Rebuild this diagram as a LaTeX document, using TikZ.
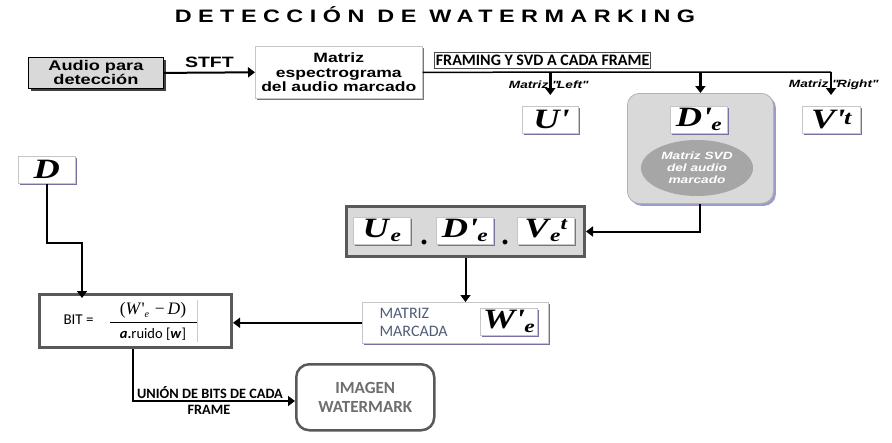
\documentclass[tikz,border=0pt]{standalone}
\usepackage{fontspec}
\setmainfont{Liberation Sans}
\newfontfamily\titfont[FakeStretch=1.3,LetterSpace=36]{Liberation Sans}
\newfontfamily\widefont[FakeStretch=1.3]{Liberation Sans}
\newfontfamily\calfont{Carlito}
\newfontfamily\tmsfont{Liberation Serif}
\newfontfamily\tmswide[FakeStretch=1.3]{Liberation Serif}
\usetikzlibrary{arrows.meta,shadows,shapes.geometric}
\definecolor{shpurple}{HTML}{7B6FA0}
\definecolor{boxgray}{HTML}{D9D9D9}
\definecolor{darkborder}{HTML}{595959}
\definecolor{ellgray}{HTML}{A6A6A6}
\definecolor{slate}{HTML}{4F5D78}
\definecolor{imggray}{HTML}{6E6E6E}
\newcommand\subE[1]{\kern1.5pt\raisebox{-4pt}{\fontsize{18}{18}\selectfont #1}}
\newcommand\supT[1]{\raisebox{8pt}{\fontsize{18}{18}\selectfont #1}}
\tikzset{
  arr/.style={line width=2pt,-{Triangle[length=7pt,width=10pt]}},
  bus/.style={line width=1.5pt},
  pbox/.style={draw=gray!45,fill=white,line width=0.6pt,anchor=north west,inner sep=0pt,
    drop shadow={shadow xshift=2pt,shadow yshift=-2pt,opacity=1,fill=shpurple}},
  symbox/.style={pbox,drop shadow={shadow xshift=1.5pt,shadow yshift=-1.5pt,opacity=1,fill=shpurple},
    font=\fontsize{28}{28}\selectfont\tmswide\bfseries\itshape},
  thickbox/.style={draw=darkborder,line width=3pt,anchor=north west,inner sep=0pt},
  lbl/.style={font=\widefont\bfseries\itshape\fontsize{10.5}{10.5}\selectfont},
}
\begin{document}
\begin{tikzpicture}[x=1pt,y=-1pt]
\useasboundingbox[fill=white] (0,0) rectangle (892,442);

% title
\node (title) at (435,15) {\titfont\bfseries\fontsize{18}{18}\selectfont DETECCIÓN DE WATERMARKING};

% top row
\node[draw=black,line width=0.8pt,fill=boxgray,anchor=north west,inner sep=0pt,
  minimum width=135,minimum height=31,align=center,
  drop shadow={shadow xshift=2.5pt,shadow yshift=-2.5pt,opacity=1,fill=black!75},
  font=\widefont\bfseries\fontsize{14}{14}\selectfont] (audio) at (28,57) {Audio para\\detección};
\node[pbox,minimum width=167,minimum height=52,align=center,
  font=\widefont\bfseries\fontsize{13.5}{14.5}\selectfont] (spec) at (255,46) {Matriz\\espectrograma\\del audio marcado};
\draw[arr] (audio.east) -- (spec.west) node[midway,above=1pt,font=\widefont\bfseries\fontsize{15}{15}\selectfont] (stft) {STFT};

\node[draw=black!70,line width=0.8pt,fill=white,anchor=north west,inner sep=1.5pt,minimum height=16,
  font=\calfont\bfseries\fontsize{16}{16}\selectfont] (framing) at (434,52) {FRAMING Y SVD A CADA FRAME};

% SVD components
\node[draw=gray!60,fill=boxgray,rounded corners=12pt,anchor=north west,minimum width=146,minimum height=110,
  line width=0.8pt,drop shadow={shadow xshift=2.5pt,shadow yshift=-2.5pt,opacity=1,fill=gray!70!blue!60}] (svdbox) at (627,93) {};
\node[ellipse,fill=ellgray,minimum width=112,minimum height=56,inner sep=0pt,align=center,text=white,
  font=\widefont\bfseries\itshape\fontsize{10.5}{12}\selectfont] (ell) at (697,168) {Matriz SVD\\del audio\\marcado};
\node[symbox,minimum width=56,minimum height=27] (U) at (522,106) {U\textquotesingle};
\node[symbox,minimum width=57,minimum height=27] (Dp) at (670,106) {D\textquotesingle\subE{e}};
\node[symbox,minimum width=58,minimum height=27] (Vp) at (802,106) {V\textquotesingle\kern1pt\raisebox{4pt}{\fontsize{20}{20}\selectfont t}};

\node[lbl] (lleft) at (548,85) {Matriz \textquotedbl Left\textquotedbl};
\node[lbl] (lright) at (833,85) {Matriz \textquotedbl Right\textquotedbl};

\coordinate (busend) at (831,72);
\draw[bus] (spec.east) -- (busend);
\draw[arr,line width=2.5pt] (U.north |- spec.east) -- ([yshift=11pt]U.north);
\draw[arr,line width=2.5pt] (svdbox.north |- spec.east) -- (svdbox.north);
\draw[arr,line width=2.5pt] (busend) -- ([yshift=11pt]busend |- Vp.north);

% product box
\node[thickbox,fill=boxgray,minimum width=238,minimum height=50] (prod) at (345,205) {};
\node[symbox,minimum width=57,minimum height=27] (Ue) at (353,217) {U\subE{e}};
\node[symbox,minimum width=57,minimum height=27] (De) at (436,217) {D\textquotesingle\subE{e}};
\node[symbox,minimum width=57,minimum height=27] (Ve) at (517,217) {V\subE{e}\supT{t}};
\node[anchor=base,font=\bfseries\fontsize{30}{30}\selectfont\tmsfont] (dot1) at (424,244) {.};
\node[anchor=base,font=\bfseries\fontsize{30}{30}\selectfont\tmsfont] (dot2) at (505,244) {.};
\draw[arr] (svdbox.south) |- (prod.east);

% matriz marcada
\node[pbox,minimum width=186,minimum height=41] (marc) at (362,302) {};
\node[anchor=west,align=left,text=slate,font=\calfont\fontsize{16}{18}\selectfont] (marctxt) at (376,322) {MATRIZ\\MARCADA};
\node[symbox,minimum width=57,minimum height=27] (We) at (480,308) {W\textquotesingle\subE{e}};
\draw[arr] (prod.south) -- (prod.south |- marc.north);

% BIT box
\node[thickbox,fill=white,minimum width=192,minimum height=53] (bit) at (38,293) {};
\node[anchor=west,font=\calfont\fontsize{15}{15}\selectfont] (bittxt) at (60,320) {BIT =};
\node[font=\tmsfont\fontsize{17.5}{18}\selectfont] (num) at (153,310)
  {(\textit{W}\textquotesingle\raisebox{-3pt}{\fontsize{10}{10}\selectfont\textit{e}}\,\,−\,\textit{D})};
\node[font=\calfont\fontsize{14.5}{14.5}\selectfont] (den) at (153,334) {\textbf{\textit{a}}\textbf{.}ruido [\textit{\textbf{w}}]};
\draw[line width=0.6pt] (110,322) -- (197,322);
\draw[gray!40,line width=0.6pt] (197,300) -- (197,342);
\draw[arr] (marc.west) -- (bit.east |- marc.west);

% D box
\node[symbox,minimum width=57,minimum height=27] (Dn) at (18,156) {D};
\coordinate (dturn) at (82,243);
\draw[arr] (Dn.south) |- (dturn) -- ([yshift=-5pt]dturn |- bit.north);

% image watermark
\node[draw=darkborder,line width=2.5pt,rounded corners=13pt,fill=white,anchor=north west,
  minimum width=138,minimum height=66,align=center,text=imggray,
  font=\calfont\bfseries\fontsize{17}{19}\selectfont] (img) at (295,363) {IMAGEN\\WATERMARK};
\coordinate (bturn) at (133,401);
\draw[arr] (bturn |- bit.south) -- (bturn) -- (bturn -| img.west);
\node[font=\calfont\bfseries\fontsize{14.3}{14.5}\selectfont] (union1) at (210,393) {UNIÓN DE BITS DE CADA};
\node[font=\calfont\bfseries\fontsize{14.3}{14.5}\selectfont] (union2) at (209,410) {FRAME};
\end{tikzpicture}
\end{document}
